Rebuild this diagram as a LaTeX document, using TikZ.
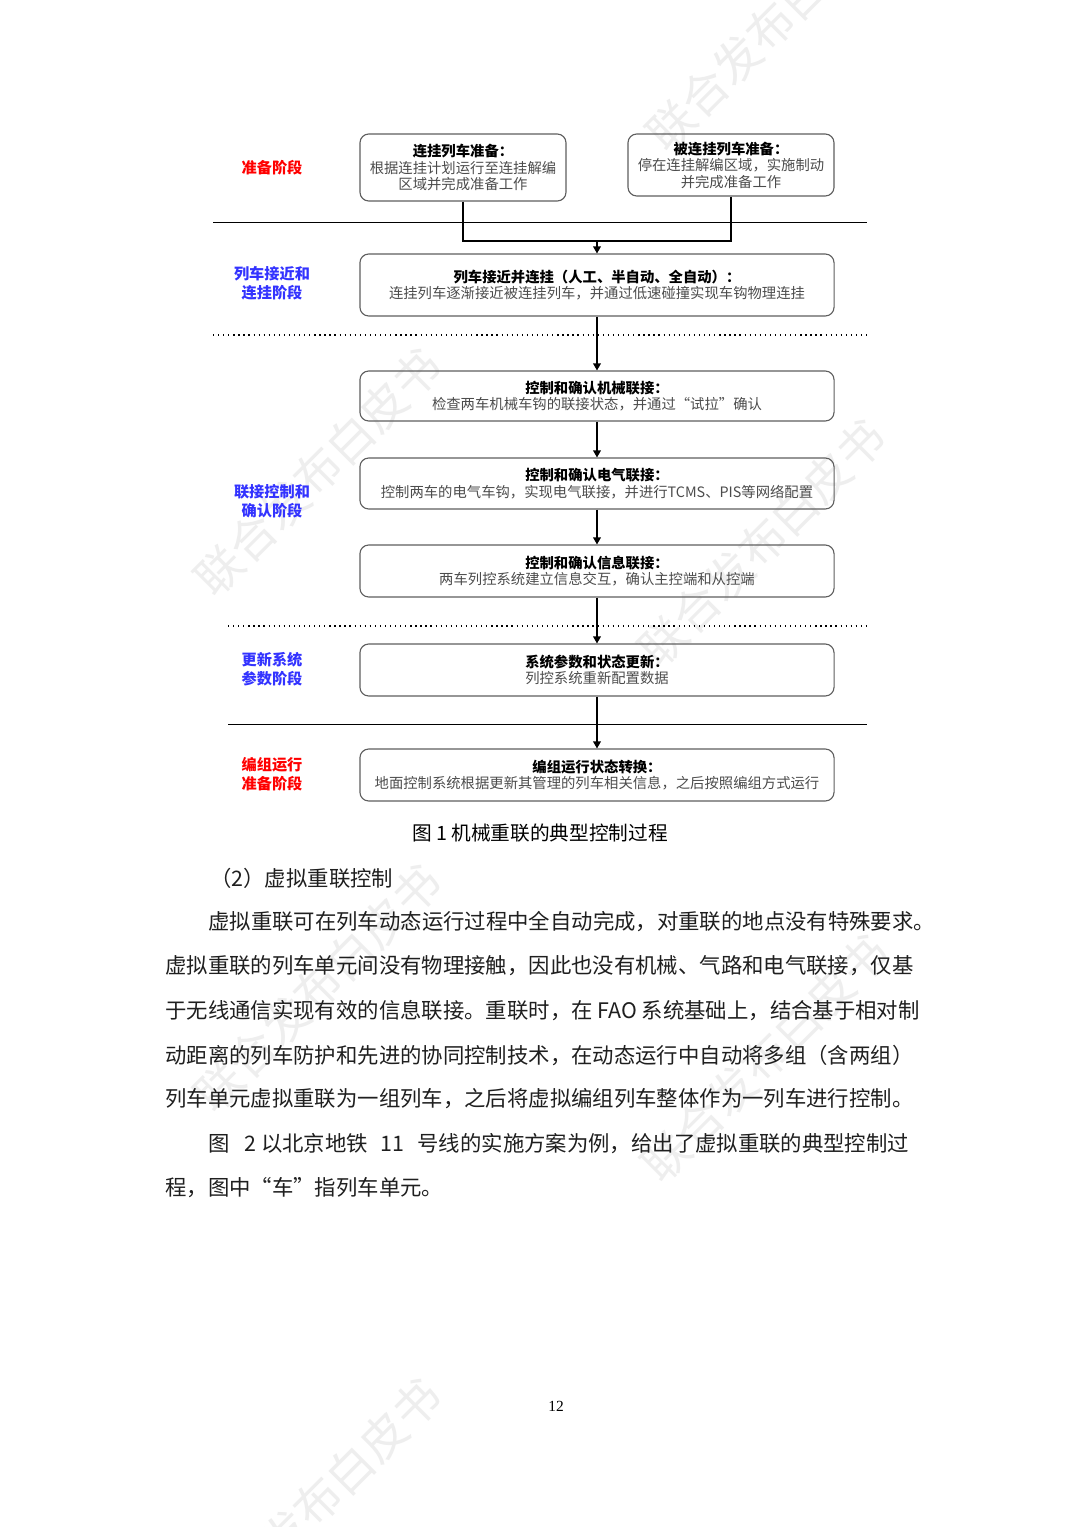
\documentclass[tikz,border=0pt]{standalone}
\usepackage{fontspec}
\setmainfont{Liberation Serif}
\newfontfamily\cjk{Noto Sans CJK SC}
\usetikzlibrary{arrows.meta,positioning}

\definecolor{phasered}{RGB}{255,0,0}
\definecolor{phaseblue}{RGB}{51,51,255}
\definecolor{boxline}{RGB}{95,95,95}

\begin{document}
\begin{tikzpicture}[
  x=0.025cm, y=-0.025cm,
  stage/.style={draw=boxline, line width=0.8pt, rounded corners=0.22cm, align=center, inner sep=0pt,
    font=\cjk\fontsize{10.2}{11.8}\selectfont, text=black!70},
  wide/.style={stage, minimum width=11.85cm, minimum height=1.3cm},
  phase/.style={align=center, inner sep=0pt, font=\cjk\bfseries\fontsize{10.8}{13.5}\selectfont},
  arr/.style={-{Triangle[length=5pt,width=5.5pt]}, line width=0.9pt},
  sep/.style={line width=0.7pt},
  dots/.style={line width=0.9pt, dash pattern=on 0.9pt off 2.7pt},
  body/.style={anchor=west, inner sep=0pt, font=\cjk\fontsize{15.2}{18}\selectfont, text=black!88},
  wmark/.style={rotate=45, inner sep=0pt, text=gray!13, font=\cjk\fontsize{33}{33}\selectfont}
]
\fill[white] (0,0) rectangle (1080,1527);
\useasboundingbox (0,0) rectangle (1080,1527);

% watermarks
\node[wmark] (wm1) at (770,27) {联合发布白皮书};
\node[wmark] (wm2) at (318,472) {联合发布白皮书};
\node[wmark] (wm3) at (762,543) {联合发布白皮书};
\node[wmark] (wm4) at (318,988) {联合发布白皮书};
\node[wmark] (wm5) at (765,1058) {联合发布白皮书};
\node[wmark] (wm6) at (318,1502) {联合发布白皮书};

% stages
\node[stage, minimum width=5.15cm, minimum height=1.675cm] (couple) at (463,167.5)
  {{\color{black}\bfseries 连挂列车准备：}\\根据连挂计划运行至连挂解编\\区域并完成准备工作};
\node[stage, minimum width=5.15cm, minimum height=1.55cm] (coupled) at (731,165)
  {{\color{black}\bfseries 被连挂列车准备：}\\停在连挂解编区域，实施制动\\并完成准备工作};
\node[wide, minimum height=1.55cm] (approach) at (597,285)
  {{\color{black}\bfseries 列车接近并连挂（人工、半自动、全自动）：}\\连挂列车逐渐接近被连挂列车，并通过低速碰撞实现车钩物理连挂};
\node[wide, minimum height=1.25cm] (mech) at (597,396)
  {{\color{black}\bfseries 控制和确认机械联接：}\\检查两车机械车钩的联接状态，并通过“试拉”确认};
\node[wide, minimum height=1.275cm] (elec) at (597,483.5)
  {{\color{black}\bfseries 控制和确认电气联接：}\\控制两车的电气车钩，实现电气联接，并进行TCMS、PIS等网络配置};
\node[wide] (info) at (597,571)
  {{\color{black}\bfseries 控制和确认信息联接：}\\两车列控系统建立信息交互，确认主控端和从控端};
\node[wide] (update) at (597,670)
  {{\color{black}\bfseries 系统参数和状态更新：}\\列控系统重新配置数据};
\node[wide] (convert) at (597,775)
  {{\color{black}\bfseries 编组运行状态转换：}\\地面控制系统根据更新其管理的列车相关信息，之后按照编组方式运行};

% phases
\node[phase, text=phasered] (prep) at (272,168) {准备阶段};
\node[phase, text=phaseblue] (near) at (272,283.5) {列车接近和\\连挂阶段};
\node[phase, text=phaseblue] (check) at (272,501) {联接控制和\\确认阶段};
\node[phase, text=phaseblue] (param) at (272,669) {更新系统\\参数阶段};
\node[phase, text=phasered] (form) at (272,774) {编组运行\\准备阶段};

% separators
\draw[sep] (213,222) -- (867,222);
\draw[dots] (213,335) -- (867,335);
\draw[dots] (228,626) -- (867,626);
\draw[sep] (228,724) -- (867,724);

% connectors
\coordinate (join) at (597,241);
\draw[line width=0.9pt] (couple.south) |- (join);
\draw[line width=0.9pt] (coupled.south) |- (join);
\draw[arr] (join) -- (approach.north);
\draw[arr] (approach) -- (mech);
\draw[arr] (mech) -- (elec);
\draw[arr] (elec) -- (info);
\draw[arr] (info) -- (update);
\draw[arr] (update) -- (convert);

\node[font=\cjk\fontsize{14}{16}\selectfont] (caption) at (540,833) {图 1 机械重联的典型控制过程};

% text below
\node[body] (para0) at (210,878) {（2）虚拟重联控制};
\node[body] (para1) at (208,922) {虚拟重联可在列车动态运行过程中全自动完成，对重联的地点没有特殊要求。};
\node[body] (para2) at (165,966) {虚拟重联的列车单元间没有物理接触，因此也没有机械、气路和电气联接，仅基};
\node[body] (para3) at (165,1011) {于无线通信实现有效的信息联接。重联时，在 FAO 系统基础上，结合基于相对制};
\node[body] (para4) at (165,1055) {动距离的列车防护和先进的协同控制技术，在动态运行中自动将多组（含两组）};
\node[body] (para5) at (165,1099) {列车单元虚拟重联为一组列车，之后将虚拟编组列车整体作为一列车进行控制。};
\node[body] (para6) at (208,1144) {图\hspace{0.7em}2 以北京地铁\hspace{0.6em}11\hspace{0.6em}号线的实施方案为例，给出了虚拟重联的典型控制过};
\node[body] (para7) at (165,1188) {程，图中“车”指列车单元。};

\node[font=\fontsize{11}{13}\selectfont] (page) at (556,1406) {12};
\end{tikzpicture}
\end{document}
